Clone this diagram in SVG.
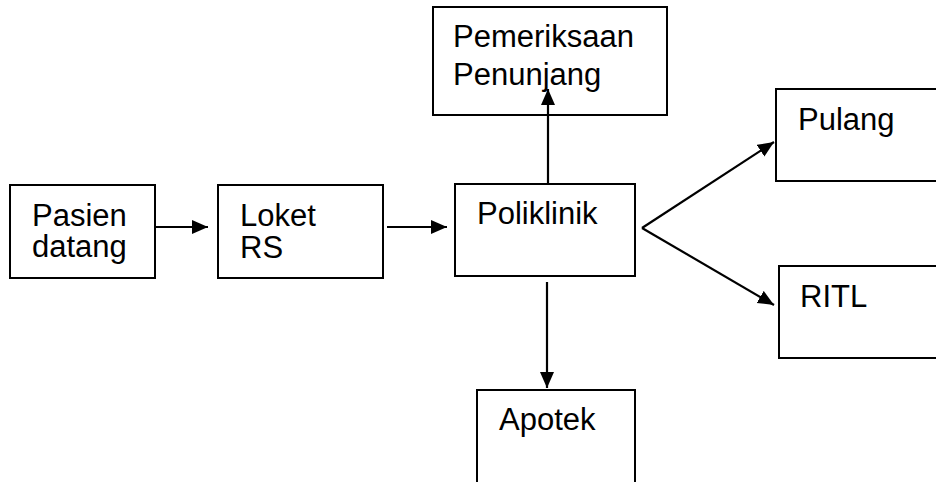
<svg xmlns="http://www.w3.org/2000/svg" width="936" height="482" viewBox="0 0 936 482">
<style>
.box{fill:#fff;stroke:#000;stroke-width:2}
.t{font-family:"Liberation Sans",Arial,sans-serif;font-size:31px;fill:#000}
.c{stroke:#000;stroke-width:2.2;fill:none}
</style>
<defs>
<marker id="ah" markerUnits="userSpaceOnUse" markerWidth="18" markerHeight="16" refX="16" refY="7" orient="auto">
<path d="M0,0 L16,7 L0,14 z" fill="#000"/>
</marker>
<clipPath id="clipP"><rect x="10" y="185" width="145" height="82"/></clipPath>
</defs>
<rect width="936" height="482" fill="#fff"/>
<g id="pasien">
<rect class="box" x="10" y="185" width="145" height="93"/>
<g clip-path="url(#clipP)">
<text class="t" x="32" y="226">Pasien</text>
<text class="t" x="32" y="257">datang</text>
</g>
</g>
<g id="loket">
<rect class="box" x="218" y="185" width="165" height="93"/>
<text class="t" x="240" y="226">Loket</text>
<text class="t" x="240" y="258">RS</text>
</g>
<g id="poliklinik">
<rect class="box" x="455" y="184" width="180" height="92"/>
<text class="t" x="477" y="224">Poliklinik</text>
</g>
<g id="pemeriksaan">
<rect class="box" x="433" y="7" width="234" height="108"/>
<text class="t" x="453" y="47">Pemeriksaan</text>
<text class="t" x="453" y="85">Penunjang</text>
</g>
<g id="pulang">
<rect class="box" x="776" y="89" width="180" height="92"/>
<text class="t" x="798" y="130">Pulang</text>
</g>
<g id="ritl">
<rect class="box" x="779" y="266" width="180" height="92"/>
<text class="t" x="800" y="307">RITL</text>
</g>
<g id="apotek">
<rect class="box" x="477" y="390" width="158" height="110"/>
<text class="t" x="499" y="430">Apotek</text>
</g>
<g id="connectors">
<line class="c" x1="155" y1="227" x2="208" y2="227" marker-end="url(#ah)"/>
<line class="c" x1="387" y1="227" x2="447" y2="227" marker-end="url(#ah)"/>
<line class="c" x1="548" y1="183" x2="548" y2="89" marker-end="url(#ah)"/>
<line class="c" x1="547" y1="282" x2="547" y2="388" marker-end="url(#ah)"/>
<line class="c" x1="642" y1="228" x2="774" y2="142" marker-end="url(#ah)"/>
<line class="c" x1="642" y1="228" x2="774" y2="305" marker-end="url(#ah)"/>
</g>
</svg>
